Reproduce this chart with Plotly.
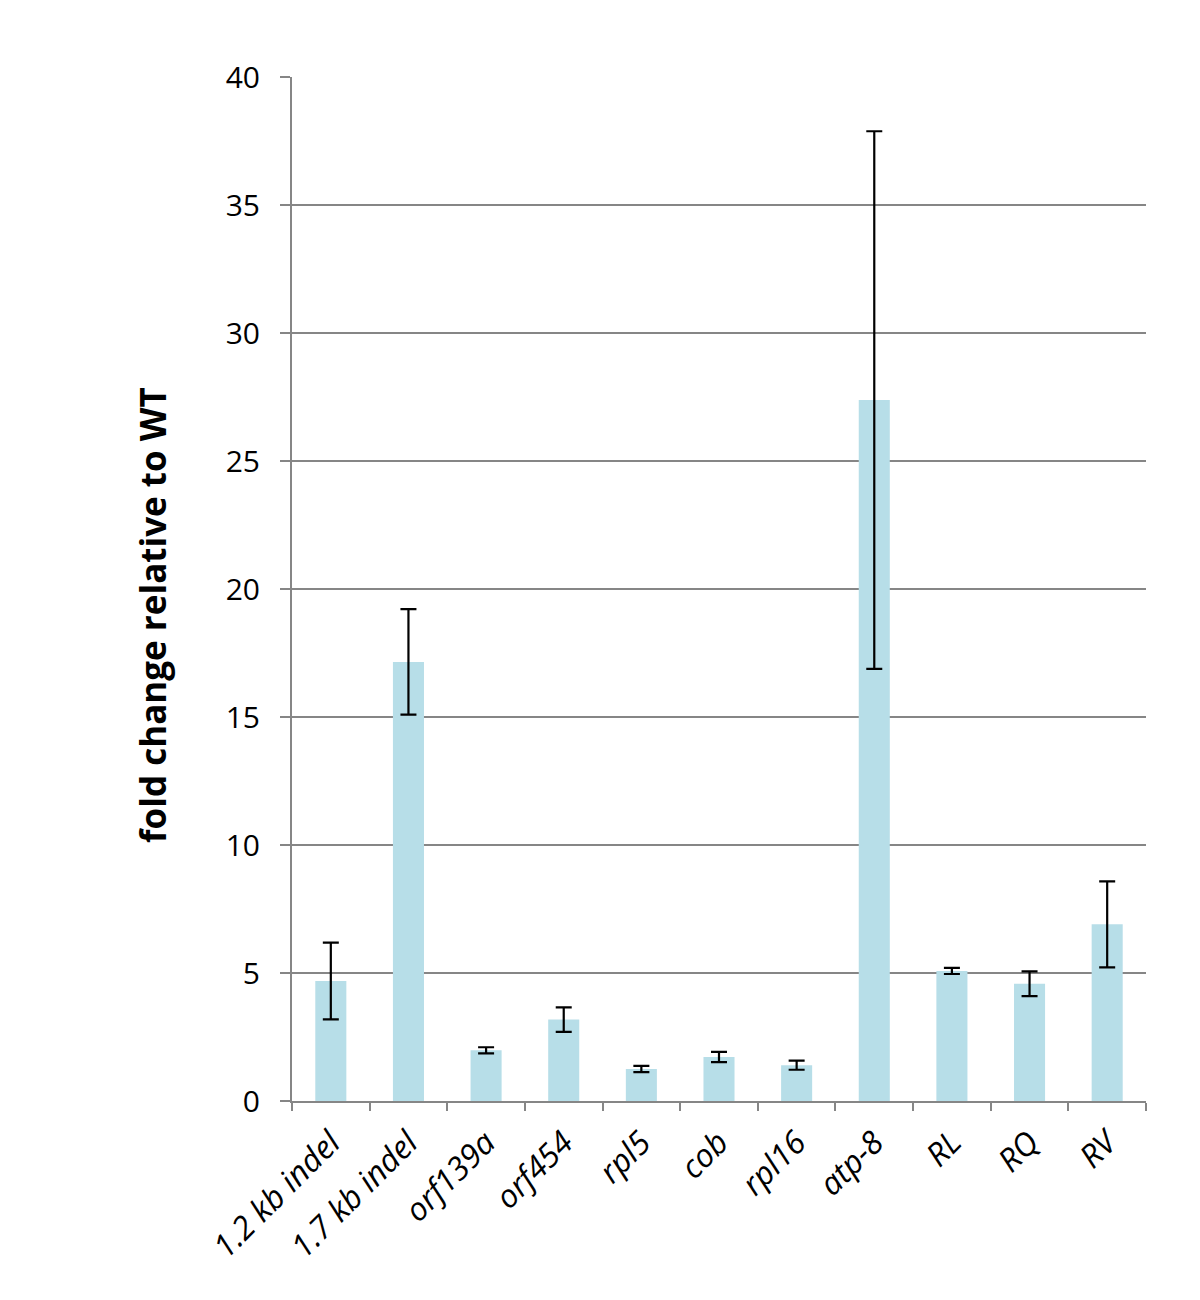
import plotly.graph_objects as go

categories = ["1.2 kb indel", "1.7 kb indel", "orf139a", "orf454", "rpl5", "cob",
              "rpl16", "atp-8", "RL", "RQ", "RV"]
values = [4.69, 17.15, 1.98, 3.18, 1.25, 1.72, 1.40, 27.38, 5.08, 4.58, 6.90]
errors = [1.50, 2.06, 0.12, 0.48, 0.12, 0.20, 0.18, 10.50, 0.12, 0.48, 1.68]
y_ticks = [0, 5, 10, 15, 20, 25, 30, 35, 40]

tick_text = [f"<i>{c}</i>" for c in categories]

fig = go.Figure()
fig.add_trace(go.Bar(
    x=categories, y=values,
    marker=dict(color="#B7DEE8", line=dict(width=0)),
    error_y=dict(type="data", array=errors, visible=True,
                 color="black", thickness=2.2, width=8),
))

fig.update_layout(
    width=1200, height=1300,
    margin=dict(l=284, r=62, t=69, b=207),
    plot_bgcolor="white", paper_bgcolor="white",
    bargap=0.6,
    showlegend=False,
    font=dict(family="Open Sans, Liberation Sans, sans-serif", color="black"),
    xaxis=dict(
        type="category",
        tickmode="array", tickvals=categories, ticktext=tick_text,
        tickangle=-45,
        tickfont=dict(size=32),
        ticklabelstandoff=8,
        showline=True, linecolor="#868686", linewidth=2,
        ticks="outside", ticklen=8, tickcolor="#868686", tickwidth=2,
        tickson="boundaries",
        showgrid=False,
    ),
    yaxis=dict(
        range=[0, 40],
        tickmode="array", tickvals=y_ticks,
        tickfont=dict(size=30),
        ticklabelstandoff=14,
        showline=True, linecolor="#868686", linewidth=2,
        ticks="outside", ticklen=10, tickcolor="#868686", tickwidth=2,
        showgrid=True, gridcolor="#868686", gridwidth=2,
        zeroline=False,
    ),
    annotations=[dict(
        text="<b>fold change relative to WT</b>",
        xref="paper", yref="paper", x=-0.164, y=0.4746,
        xanchor="center", yanchor="middle",
        textangle=-90, showarrow=False,
        font=dict(size=35),
    )],
)

fig.write_html("out.html")
